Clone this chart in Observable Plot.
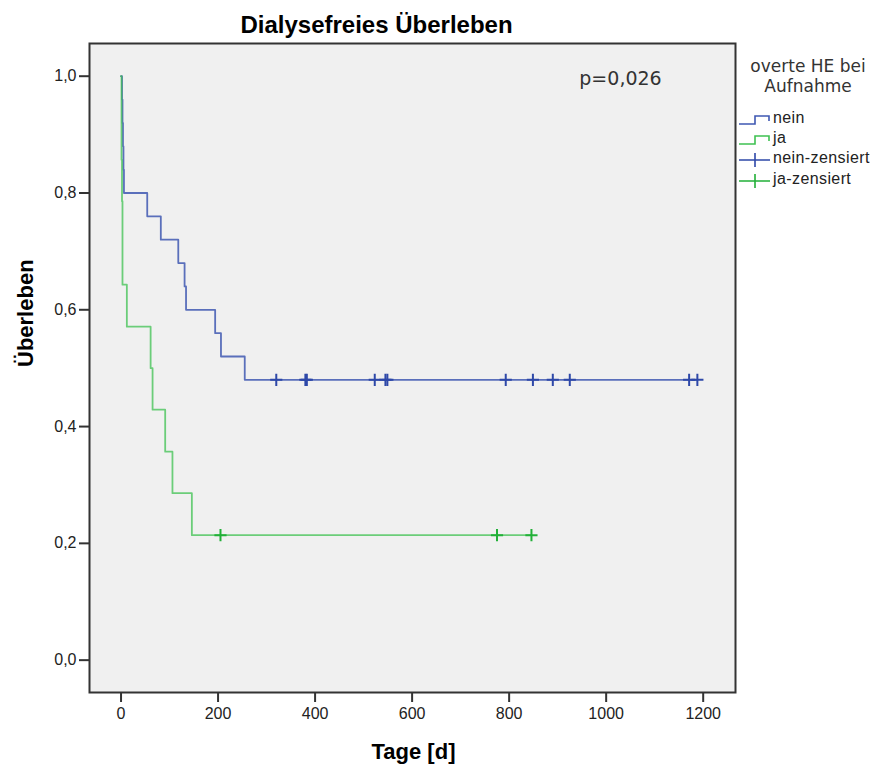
<!DOCTYPE html>
<html>
<head>
<meta charset="utf-8">
<script src="https://cdn.jsdelivr.net/npm/d3@7"></script>
<script src="https://cdn.jsdelivr.net/npm/@observablehq/plot@0.6"></script>
<style>
  html, body { margin: 0; padding: 0; background: #fff; }
  #wrap { position: relative; width: 875px; height: 764px; }
  #legend { position: absolute; left: 733px; top: 0; width: 142px; height: 200px;
            font-family: "Liberation Sans", Arial, sans-serif; color: #222; }
  #legend .ttl { position: absolute; left: 0; width: 150px; text-align: center;
                 font-family: "DejaVu Sans", sans-serif; font-size: 17px; color: #333; }
  #legend .item { position: absolute; left: 40px; font-size: 16px; letter-spacing: 0.4px; }
  #legend svg { position: absolute; left: 0; top: 0; overflow: visible; }
</style>
</head>
<body>
<div id="wrap">
  <div id="chart"></div>
  <div id="legend"></div>
</div>
<script>
// ---- Data (Kaplan–Meier curves) ----
// Gruppe "nein" (keine overte HE bei Aufnahme)
const neinTimes = [0, 2, 3, 4, 5, 6, 54, 82, 118, 131, 134, 194, 206, 255, 1188];
const neinSurv  = [1, 0.96, 0.92, 0.88, 0.84, 0.80, 0.76, 0.72, 0.68, 0.64, 0.60, 0.56, 0.52, 0.48, 0.48];
const neinCensorTimes = [320, 380, 383, 523, 545, 549, 793, 849, 890, 925, 1171, 1188];
const neinCensorSurv  = [0.48, 0.48, 0.48, 0.48, 0.48, 0.48, 0.48, 0.48, 0.48, 0.48, 0.48, 0.48];
// Gruppe "ja" (overte HE bei Aufnahme)
const jaTimes = [0, 1, 1, 2, 3, 3, 12, 61, 65, 91, 106, 146, 846];
const jaSurv  = [1, 0.929, 0.857, 0.786, 0.714, 0.643, 0.571, 0.5, 0.429, 0.357, 0.286, 0.214, 0.214];
const jaCensorTimes = [205, 775, 846];
const jaCensorSurv  = [0.214, 0.214, 0.214];

const xTicks = [0, 200, 400, 600, 800, 1000, 1200];
const yTicks = [0, 0.2, 0.4, 0.6, 0.8, 1.0];

const groups = ["nein", "ja", "nein-zensiert", "ja-zensiert"];
const titleText = "Dialysefreies Überleben";
const xLabel = "Tage [d]";
const yLabel = "Überleben";
const pText = "p=0,026";
const legendTitle = ["overte HE bei", "Aufnahme"];

const blue = "#3f58b2", green = "#3fc152";
const blueC = "#2e48a8", greenC = "#22b038";

const nein = neinTimes.map((t, i) => ({t, s: neinSurv[i]}));
const ja = jaTimes.map((t, i) => ({t, s: jaSurv[i]}));
const neinC = neinCensorTimes.map((t, i) => ({t, s: neinCensorSurv[i]}));
const jaC = jaCensorTimes.map((t, i) => ({t, s: jaCensorSurv[i]}));

const fmt = d => d.toFixed(1).replace(".", ",");

const chart = Plot.plot({
  width: 875,
  height: 764,
  marginLeft: 89,
  marginRight: 140,
  marginTop: 43,
  marginBottom: 72,
  style: {fontFamily: "'Liberation Sans', Arial, sans-serif", background: "#fff", color: "#222"},
  x: {domain: [-65, 1266.6]},
  y: {domain: [-0.0554, 1.056]},
  marks: [
    Plot.frame({fill: "#f0f0f0", stroke: null}),
    Plot.line(nein, {x: "t", y: "s", curve: "step-after", stroke: blue, strokeWidth: 1.8, strokeOpacity: 0.85}),
    Plot.line(ja, {x: "t", y: "s", curve: "step-after", stroke: green, strokeWidth: 1.8, strokeOpacity: 0.75}),
    Plot.dot(neinC, {x: "t", y: "s", symbol: "plus", r: 4, stroke: blueC, strokeWidth: 2}),
    Plot.dot(jaC, {x: "t", y: "s", symbol: "plus", r: 4, stroke: greenC, strokeWidth: 2}),
    Plot.frame({stroke: "#333", strokeWidth: 2}),
    Plot.axisX({ticks: xTicks, tickSize: 10, tickPadding: 5, fontSize: 16, label: null, tickFormat: d => String(d), stroke: "#333", strokeWidth: 2, fill: "#222"}),
    Plot.axisY({ticks: yTicks, tickSize: 10, tickPadding: 3, fontSize: 16, label: null, tickFormat: fmt, stroke: "#333", strokeWidth: 2, fill: "#222"}),
    Plot.text([titleText], {frameAnchor: "top", lineAnchor: "middle", dx: -36, dy: -18, fontSize: 24, fontWeight: "bold", fill: "#000"}),
    Plot.text([xLabel], {frameAnchor: "bottom", lineAnchor: "middle", dx: 1, dy: 59, fontSize: 22, fontWeight: "bold", fill: "#000"}),
    Plot.text([yLabel], {frameAnchor: "left", lineAnchor: "middle", dx: -64, dy: -1, rotate: -90, fontSize: 22, fontWeight: "bold", fill: "#000"}),
    Plot.text([pText], {frameAnchor: "top", lineAnchor: "middle", dx: 208, dy: 35, fontSize: 19, fontFamily: "'DejaVu Sans', sans-serif", fill: "#333"})
  ]
});
document.getElementById("chart").appendChild(chart);

// ---- Legend (HTML) ----
const lg = document.getElementById("legend");
const ns = "http://www.w3.org/2000/svg";
legendTitle.forEach((t, i) => {
  const d = document.createElement("div");
  d.className = "ttl";
  d.textContent = t;
  d.style.top = (56 + i * 20) + "px";
  lg.appendChild(d);
});
const svg = document.createElementNS(ns, "svg");
svg.setAttribute("width", 142); svg.setAttribute("height", 200);
lg.appendChild(svg);
const rowsY = [120, 140, 160, 181];
const cols = [blue, green, blueC, greenC];
groups.forEach((g, i) => {
  const y = rowsY[i];
  if (i < 2) {
    const p = document.createElementNS(ns, "path");
    p.setAttribute("d", `M6,${y + 4}H22V${y - 4}H36V${y + 1}`);
    p.setAttribute("fill", "none"); p.setAttribute("stroke", cols[i]); p.setAttribute("stroke-width", 1.6);
    svg.appendChild(p);
  } else {
    const p = document.createElementNS(ns, "path");
    p.setAttribute("d", `M6,${y}H37M22,${y - 7}V${y + 7}`);
    p.setAttribute("fill", "none"); p.setAttribute("stroke", cols[i]); p.setAttribute("stroke-width", 1.6);
    svg.appendChild(p);
  }
  const d = document.createElement("div");
  d.className = "item";
  d.textContent = g;
  d.style.top = (y - 11) + "px";
  lg.appendChild(d);
});
</script>
</body>
</html>
